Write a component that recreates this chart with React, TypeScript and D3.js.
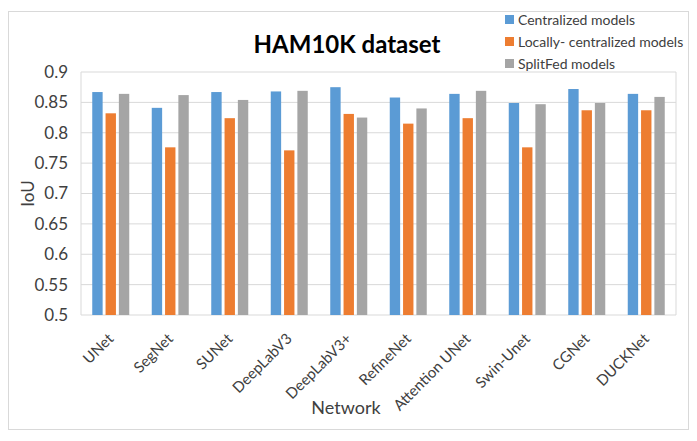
import React from "react";
import * as d3 from "d3";

const categories = ["UNet", "SegNet", "SUNet", "DeepLabV3", "DeepLabV3+", "RefineNet", "Attention UNet", "Swin-Unet", "CGNet", "DUCKNet"];
const seriesNames = ["Centralized models", "Locally- centralized models", "SplitFed models"];
const centralized = [0.867, 0.841, 0.867, 0.868, 0.875, 0.858, 0.864, 0.849, 0.872, 0.864];
const locallyCentralized = [0.832, 0.776, 0.824, 0.771, 0.831, 0.815, 0.824, 0.776, 0.837, 0.837];
const splitFed = [0.864, 0.862, 0.854, 0.869, 0.825, 0.840, 0.869, 0.847, 0.849, 0.859];
const yTicks = [0.5, 0.55, 0.6, 0.65, 0.7, 0.75, 0.8, 0.85, 0.9];
const colors = ["#5B9BD5", "#ED7D31", "#A5A5A5"];

const W = 697, H = 441;
const FONT = "Lato, 'Open Sans', sans-serif";

export default function App() {
  const left = 81, right = 676, top = 72, bottom = 315;
  const x = d3.scaleBand<string>().domain(categories).range([left, right]).paddingInner(0).paddingOuter(0);
  const y = d3.scaleLinear().domain([0.5, 0.9]).range([bottom, top]);
  const series = [centralized, locallyCentralized, splitFed];
  const inner = d3.scaleBand<number>().domain([0, 1, 2]).range([0, 37]).paddingInner(0.22);

  return (
    <svg width={W} height={H} style={{ position: "absolute", left: 0, top: 0, background: "#fff" }} fontFamily={FONT}>
      <rect x={8.5} y={11.5} width={680} height={418} fill="#fff" stroke="#D9D9D9" />
      {yTicks.map((t) => (
        <line key={t} x1={left} x2={right} y1={y(t)} y2={y(t)} stroke="#D9D9D9" strokeWidth={1} />
      ))}
      <line x1={left} x2={left} y1={top} y2={bottom} stroke="#D9D9D9" />
      <line x1={right} x2={right} y1={top} y2={bottom} stroke="#D9D9D9" />
      {categories.map((c, i) => {
        const gx = (x(c) as number) + (x.bandwidth() - 37) / 2;
        return (
          <g key={c}>
            {series.map((s, k) => (
              <rect key={k} x={gx + (inner(k) as number)} y={y(s[i])} width={inner.bandwidth()} height={bottom - y(s[i])} fill={colors[k]} />
            ))}
          </g>
        );
      })}
      {yTicks.map((t) => (
        <text key={t} x={68} y={y(t)} dy="0.35em" textAnchor="end" fontSize={17} fill="#404040">
          {String(t)}
        </text>
      ))}
      {categories.map((c) => {
        const cx = (x(c) as number) + x.bandwidth() / 2;
        return (
          <text key={c} transform={`translate(${cx},${bottom + 21}) rotate(-45)`} textAnchor="end" dy="0.35em" fontSize={15} fill="#404040">
            {c}
          </text>
        );
      })}
      <text transform={`translate(34,${(top + bottom) / 2}) rotate(-90)`} textAnchor="middle" fontSize={17} fill="#404040">IoU</text>
      <text x={346} y={414} textAnchor="middle" fontSize={18} fill="#404040">Network</text>
      <text x={347} y={53} textAnchor="middle" fontSize={24} fontWeight="bold" fill="#000">HAM10K dataset</text>
      {seriesNames.map((n, k) => (
        <g key={n} transform={`translate(505,${20 + k * 22})`}>
          <rect x={0} y={-5} width={9} height={9} fill={colors[k]} />
          <text x={13} y={0} dy="0.35em" fontSize={14} fill="#404040">{n}</text>
        </g>
      ))}
    </svg>
  );
}
